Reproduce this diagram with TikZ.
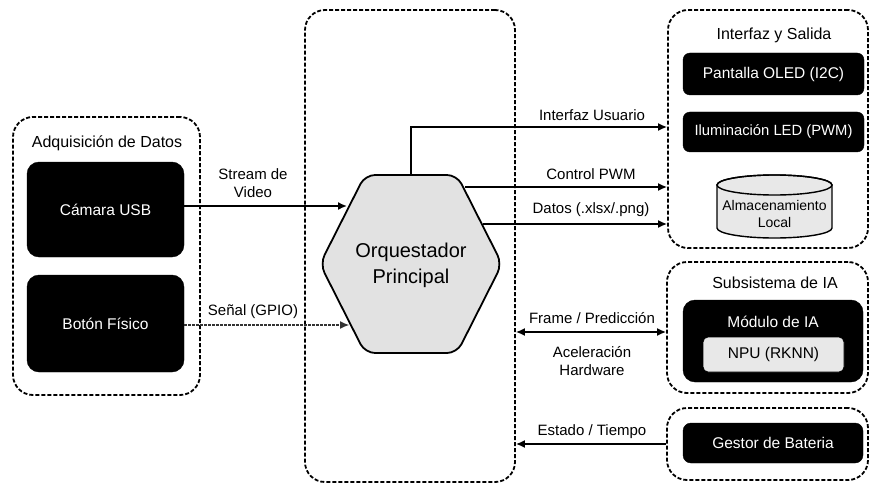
\documentclass[tikz,border=0pt]{standalone}
\usepackage{fontspec}
\setmainfont{Liberation Sans}
\usetikzlibrary{arrows.meta}

\definecolor{hexfill}{HTML}{E2E2E2}
\definecolor{softfill}{HTML}{E8E8E8}

\begin{document}
\begin{tikzpicture}[x=1pt, y=-1pt,
  group/.style={draw=black, line width=1.8pt, dash pattern=on 4pt off 2pt,
    rounded corners=20pt, inner sep=0pt},
  grouptitle/.style={font=\fontsize{16}{19}\selectfont, inner sep=1pt},
  blackbox/.style={draw=black, fill=black, text=white, rounded corners=12pt,
    inner sep=0pt, font=\fontsize{15.5}{18}\selectfont},
  smallbox/.style={blackbox, rounded corners=7pt, minimum width=181pt},
  lightbox/.style={draw=black, line width=0.8pt, fill=softfill, rounded corners=5pt,
    inner sep=0pt, font=\fontsize{15.5}{18}\selectfont},
  lbl/.style={font=\fontsize{15}{18}\selectfont, inner sep=1pt, align=center},
  conn/.style={line width=1.6pt, -{Latex[length=9pt,width=8pt]}},
  biconn/.style={line width=1.6pt, {Latex[length=9pt,width=8pt]}-{Latex[length=9pt,width=8pt]}},
  dconn/.style={line width=1.1pt, draw=black!80, dash pattern=on 2.5pt off 1.5pt,
    -{Latex[length=9pt,width=8pt]}}
]
\useasboundingbox (0,0) rectangle (870,484);
\fill[white] (0,0) rectangle (870,484);

% ---------- groups ----------
\node[group, minimum width=187pt, minimum height=278pt] (acq) at (106.5,256) {};
\node[grouptitle] (acqt) at (107,143) {Adquisición de Datos};
\node[group, minimum width=210pt, minimum height=472pt] (ctr) at (410,246) {};
\node[group, minimum width=200pt, minimum height=238pt] (iface) at (768,129) {};
\node[grouptitle] (ifacet) at (774,35) {Interfaz y Salida};
\node[group, minimum width=201pt, minimum height=131pt] (ia) at (767.5,327.5) {};
\node[grouptitle] (iat) at (775,283) {Subsistema de IA};
\node[group, minimum width=201pt, minimum height=72pt] (bat) at (767.5,444) {};

% ---------- acquisition ----------
\node[blackbox, minimum width=157pt, minimum height=95pt] (cam) at (105.5,209.5) {Cámara USB};
\node[blackbox, minimum width=157pt, minimum height=97pt] (btn) at (105.5,323.5) {Botón Físico};

% ---------- orchestrator hexagon ----------
\coordinate (hl)  at (320,264);
\coordinate (htl) at (365,175);
\coordinate (htr) at (457,175);
\coordinate (hr)  at (502,264);
\coordinate (hbr) at (457,353);
\coordinate (hbl) at (365,353);
\draw[line width=1.8pt, fill=hexfill, rounded corners=10pt]
  (hl) -- (htl) -- (htr) -- (hr) -- (hbr) -- (hbl) -- cycle;
\node[font=\fontsize{20}{26}\selectfont, align=center] (orq) at (411,265) {Orquestador\\Principal};

% connection points on the hexagon border
\coordinate (htop) at (411,175);
\coordinate (in1)  at (347,206);
\coordinate (in2)  at (349,325);
\coordinate (out1) at (465,187);
\coordinate (out2) at (483,224);
\coordinate (uiy)  at (0,127);
\coordinate (fry)  at (0,332);
\coordinate (sty)  at (0,444);

% ---------- output side ----------
\node[smallbox, minimum height=42pt] (oled) at (773.5,74) {Pantalla OLED (I2C)};
\node[smallbox, minimum height=40pt, font=\fontsize{14.8}{18}\selectfont] (led) at (773.5,132) {Iluminación LED (PWM)};
\draw[line width=1.4pt, fill=softfill]
  (717,185) -- (717,228) arc[start angle=180, end angle=0, x radius=57.5, y radius=10]
  -- (832,185) arc[start angle=0, end angle=-180, x radius=57.5, y radius=10] -- cycle;
\draw[line width=1.4pt] (774.5,185) ellipse[x radius=57.5, y radius=10];
\node[font=\fontsize{14}{17}\selectfont, align=center] (store) at (774.5,214) {Almacenamiento\\Local};

% ---------- AI subsystem ----------
\node[blackbox, minimum width=180pt, minimum height=82pt] (mod) at (773,341) {};
\node[font=\fontsize{15.5}{18}\selectfont, text=white] (modt) at (773,322) {Módulo de IA};
\node[lightbox, minimum width=141pt, minimum height=35pt] (npu) at (773.5,354.5) {NPU (RKNN)};

% ---------- battery ----------
\node[blackbox, rounded corners=8pt, minimum width=180pt, minimum height=40pt] (gest) at (773,443) {Gestor de Bateria};

% ---------- connectors ----------
\draw[conn] (cam.east |- in1) -- (in1);
\node[lbl] (l1) at (253,183) {Stream de\\Video};
\draw[dconn] (btn.east |- in2) -- (in2);
\node[lbl] (l2) at (253,312) {Señal (GPIO)};

\draw[conn] (htop) |- (iface.west |- uiy);
\node[lbl] (l3) at (592,115) {Interfaz Usuario};
\draw[conn] (out1) -- (iface.west |- out1);
\node[lbl] (l4) at (591,174) {Control PWM};
\draw[conn] (out2) -- (iface.west |- out2);
\node[lbl] (l5) at (591,210) {Datos (.xlsx/.png)};

\draw[biconn] (ctr.east |- fry) -- (ia.west |- fry);
\node[lbl] (l6) at (592,318) {Frame / Predicción};
\node[lbl] (l7) at (592,361) {Aceleración\\Hardware};

\draw[conn] (bat.west |- sty) -- (ctr.east |- sty);
\node[lbl] (l8) at (592,432) {Estado / Tiempo};
\end{tikzpicture}
\end{document}
